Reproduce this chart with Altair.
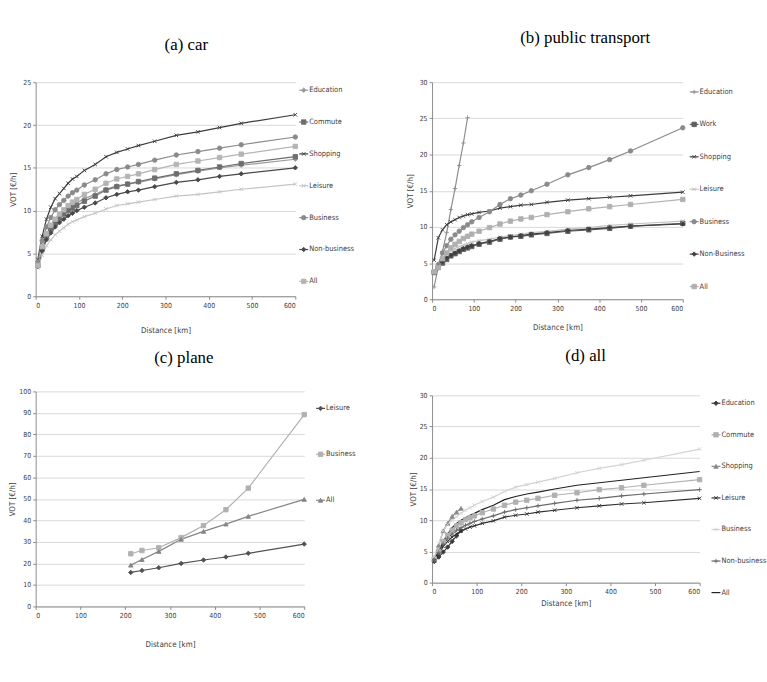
import altair as alt
import pandas as pd

dist = [5, 15, 25, 35, 45, 55, 65, 75, 85, 95, 112.5, 137.5, 162.5, 187.5,
        212.5, 237.5, 275, 325, 375, 425, 475, 600]
plane_dist = [212.5, 237.5, 275, 325, 375, 425, 475, 600]

# (a) car
car_series = ["Education", "Commute", "Shopping", "Leisure", "Business", "Non-business", "All"]
car_education = [3.8, 5.8, 7.2, 8.0, 8.8, 9.3, 9.8, 10.2, 10.6, 10.9, 11.4, 11.9, 12.5, 12.9, 13.1, 13.3, 13.7, 14.2, 14.6, 15.0, 15.3, 16.0]
car_commute = [3.6, 5.6, 7.0, 7.8, 8.5, 9.1, 9.6, 10.0, 10.3, 10.6, 11.1, 11.7, 12.4, 12.8, 13.1, 13.4, 13.8, 14.3, 14.7, 15.1, 15.5, 16.3]
car_shopping = [4.3, 7.0, 9.0, 10.4, 11.4, 12.0, 12.6, 13.2, 13.7, 14.0, 14.7, 15.4, 16.3, 16.8, 17.2, 17.6, 18.1, 18.8, 19.2, 19.7, 20.2, 21.2]
car_leisure = [3.3, 4.8, 5.9, 6.6, 7.2, 7.6, 8.0, 8.4, 8.7, 8.9, 9.3, 9.7, 10.2, 10.6, 10.8, 11.0, 11.3, 11.7, 11.9, 12.2, 12.5, 13.1]
car_business = [4.0, 6.5, 8.1, 9.2, 10.1, 10.7, 11.2, 11.7, 12.1, 12.4, 13.0, 13.6, 14.3, 14.8, 15.1, 15.4, 15.9, 16.5, 16.9, 17.3, 17.7, 18.6]
car_nonbusiness = [3.5, 5.3, 6.6, 7.4, 8.1, 8.6, 9.0, 9.4, 9.7, 10.0, 10.4, 10.9, 11.5, 11.9, 12.2, 12.4, 12.8, 13.3, 13.6, 14.0, 14.3, 15.0]
car_all = [3.6, 5.8, 7.3, 8.3, 9.0, 9.6, 10.1, 10.6, 11.0, 11.3, 11.9, 12.5, 13.2, 13.7, 14.0, 14.3, 14.8, 15.4, 15.8, 16.2, 16.6, 17.5]

# (b) public transport
pt_series = ["Education", "Work", "Shopping", "Leisure", "Business", "Non-Business", "All"]
pt_education = [1.7, 4.5, 6.6, 9.2, 12.4, 15.3, 18.5, 21.6, 25.1]
pt_work = [3.7, 4.4, 5.0, 5.5, 6.0, 6.3, 6.6, 6.9, 7.1, 7.3, 7.6, 7.9, 8.3, 8.6, 8.7, 8.9, 9.1, 9.4, 9.6, 9.8, 10.1, 10.5]
pt_shopping = [5.4, 8.5, 9.6, 10.3, 10.7, 11.0, 11.3, 11.5, 11.7, 11.8, 12.0, 12.2, 12.6, 12.8, 13.0, 13.1, 13.4, 13.7, 13.9, 14.1, 14.3, 14.8]
pt_leisure = [3.7, 4.4, 5.6, 6.3, 6.7, 7.0, 7.3, 7.5, 7.7, 7.9, 8.1, 8.3, 8.6, 8.8, 9.0, 9.2, 9.4, 9.7, 9.9, 10.2, 10.4, 10.8]
pt_business = [3.8, 4.8, 6.4, 7.4, 8.3, 8.9, 9.4, 9.9, 10.3, 10.7, 11.3, 12.1, 13.1, 13.9, 14.4, 15.0, 15.9, 17.2, 18.2, 19.3, 20.5, 23.7]
pt_nonbusiness = [3.8, 4.5, 5.2, 5.7, 6.1, 6.4, 6.7, 7.0, 7.2, 7.4, 7.7, 8.0, 8.4, 8.6, 8.8, 9.0, 9.2, 9.5, 9.7, 9.9, 10.1, 10.4]
pt_all = [3.8, 4.4, 5.6, 6.4, 7.1, 7.6, 8.0, 8.4, 8.7, 9.0, 9.4, 9.9, 10.4, 10.8, 11.1, 11.3, 11.7, 12.1, 12.5, 12.8, 13.1, 13.8]

# (c) plane
plane_series = ["Leisure", "Business", "All"]
plane_leisure = [15.8, 16.7, 18.0, 20.0, 21.6, 23.0, 24.7, 29.0]
plane_business = [24.5, 26.0, 27.3, 32.0, 37.6, 45.0, 55.0, 89.2]
plane_all = [19.2, 21.8, 25.6, 31.2, 34.9, 38.3, 41.9, 49.8]

# (d) all
all_series = ["Education", "Commute", "Shopping", "Leisure", "Business", "Non-business", "All"]
all_education = [3.4, 4.1, 4.9, 5.7, 6.6, 7.5, 8.3]
all_commute = [3.8, 5.0, 6.6, 7.6, 8.4, 9.1, 9.6, 10.1, 10.4, 10.7, 11.2, 11.8, 12.4, 12.9, 13.2, 13.5, 14.0, 14.4, 14.9, 15.2, 15.6, 16.5]
all_shopping = [3.8, 6.0, 8.3, 9.5, 10.6, 11.3, 11.9]
all_leisure = [3.5, 4.5, 5.8, 6.6, 7.3, 7.8, 8.3, 8.6, 8.9, 9.1, 9.5, 9.9, 10.5, 10.8, 11.0, 11.3, 11.6, 12.0, 12.3, 12.6, 12.8, 13.5]
all_business = [4.2, 6.3, 8.3, 9.3, 10.0, 10.6, 11.1, 11.6, 12.0, 12.4, 13.0, 13.7, 14.6, 15.3, 15.7, 16.1, 16.7, 17.6, 18.3, 18.9, 19.6, 21.4]
all_nonbusiness = [3.6, 4.8, 6.2, 7.1, 7.8, 8.4, 8.8, 9.2, 9.5, 9.8, 10.2, 10.7, 11.3, 11.7, 12.0, 12.3, 12.7, 13.2, 13.5, 13.9, 14.2, 14.9]
all_all = [3.8, 5.0, 6.6, 7.8, 8.8, 9.5, 10.0, 10.4, 10.8, 11.1, 11.7, 12.4, 13.3, 13.8, 14.2, 14.5, 15.0, 15.6, 16.0, 16.4, 16.8, 17.8]

X_PATH = "M-0.8,-0.8L0.8,0.8M-0.8,0.8L0.8,-0.8"
PLUS_PATH = "M-1,0L1,0M0,-1L0,1"

LABEL_FONT = "Liberation Sans Narrow, DejaVu Sans Condensed, Roboto, sans-serif"
TITLE_FONT = "Liberation Serif, Times New Roman, serif"
TXT = "#404040"


def frame(key, series, values, xs):
    rows = []
    for s, vals in zip(series, values):
        for d, v in zip(xs, vals):
            rows.append({key: s, "d": d, "v": v})
    return pd.DataFrame(rows)


def marks(key, series, colors, shapes):
    cscale = alt.Scale(domain=series, range=colors)
    return dict(
        color=alt.Color(f"{key}:N", scale=cscale, legend=None),
        stroke=alt.Stroke(f"{key}:N", scale=cscale, legend=None),
        shape=alt.Shape(f"{key}:N", scale=alt.Scale(domain=series, range=shapes), legend=None),
    )


def panel(key, df, series, colors, shapes, marked, ymax, ystep, w, h, title, tdx, toff,
          ytp, xtp):
    enc = marks(key, series, colors, shapes)
    x = alt.X("d:Q", scale=alt.Scale(domain=[0, 600], nice=False),
              axis=alt.Axis(values=list(range(0, 601, 100)), title="Distance [km]",
                            grid=False, tickSize=3, titlePadding=xtp))
    y = alt.Y("v:Q", scale=alt.Scale(domain=[0, ymax], nice=False),
              axis=alt.Axis(values=list(range(0, ymax + 1, ystep)), title="VOT [€/h]",
                            grid=True, tickSize=3, titlePadding=ytp))
    lines = alt.Chart(df).mark_line(strokeWidth=1.2).encode(x=x, y=y, color=enc["color"])
    pts = alt.Chart(df).transform_filter(
        alt.FieldOneOfPredicate(field=key, oneOf=marked)
    ).mark_point(filled=True, size=20, strokeWidth=0.9, opacity=1).encode(
        x=x, y=y, color=enc["color"], stroke=enc["stroke"], shape=enc["shape"])
    return alt.layer(lines, pts).properties(
        width=w, height=h,
        title=alt.TitleParams(title, font=TITLE_FONT, fontSize=17, fontWeight="normal",
                              color="black", anchor="middle", frame="group", dx=tdx,
                              offset=toff),
    )


def legend(key, series, colors, shapes, marked, h, pad):
    enc = marks(key, series, colors, shapes)
    base = alt.Chart(pd.DataFrame({key: series})).encode(
        y=alt.Y(f"{key}:N", scale=alt.Scale(type="point", domain=series, padding=pad),
                axis=None))
    rule = base.mark_rule(strokeWidth=1.2).encode(
        x=alt.value(0), x2=alt.value(9), color=enc["color"])
    pts = base.transform_filter(
        alt.FieldOneOfPredicate(field=key, oneOf=marked)
    ).mark_point(filled=True, size=20, strokeWidth=0.9, opacity=1).encode(
        x=alt.value(4.5), color=enc["color"], stroke=enc["stroke"], shape=enc["shape"])
    txt = base.mark_text(align="left", baseline="middle", fontSize=7.5, color=TXT,
                         font=LABEL_FONT).encode(x=alt.value(10), text=f"{key}:N")
    return alt.layer(rule, pts, txt).properties(width=52, height=h)


def indep(c):
    return c.resolve_scale(color="independent", stroke="independent", shape="independent")


car_df = frame("sa", car_series, [car_education, car_commute, car_shopping, car_leisure,
                                  car_business, car_nonbusiness, car_all], dist)
car_colors = ["#9a9a9a", "#6e6e6e", "#3c3c3c", "#c4c4c4", "#8a8a8a", "#484848", "#b4b4b4"]
car_shapes = ["diamond", "square", X_PATH, X_PATH, "circle", "diamond", "square"]

pt_df = frame("sb", pt_series, [pt_education, pt_work, pt_shopping, pt_leisure, pt_business,
                                pt_nonbusiness, pt_all], dist)
pt_colors = ["#8e8e8e", "#5e5e5e", "#3c3c3c", "#c4c4c4", "#8a8a8a", "#404040", "#b0b0b0"]
pt_shapes = [PLUS_PATH, "square", X_PATH, X_PATH, "circle", "diamond", "square"]

plane_df = frame("sc", plane_series, [plane_leisure, plane_business, plane_all], plane_dist)
plane_colors = ["#505050", "#b0b0b0", "#858585"]
plane_shapes = ["diamond", "square", "triangle-up"]

all_df = frame("sd", all_series, [all_education, all_commute, all_shopping, all_leisure,
                                  all_business, all_nonbusiness, all_all], dist)
all_colors = ["#3c3c3c", "#b0b0b0", "#8a8a8a", "#303030", "#d2d2d2", "#6a6a6a", "#222222"]
all_shapes = ["diamond", "square", "triangle-up", X_PATH, X_PATH, PLUS_PATH, "circle"]
all_marked = all_series[:-1]

pa = panel("sa", car_df, car_series, car_colors, car_shapes, car_series, 25, 5, 262, 216,
           "(a) car", 21, 25, 5, 19)
la = legend("sa", car_series, car_colors, car_shapes, car_series, 209, 0.25)
pb = panel("sb", pt_df, pt_series, pt_colors, pt_shapes, pt_series, 30, 5, 253, 219,
           "(b) public transport", 28, 32, 5, 13)
lb = legend("sb", pt_series, pt_colors, pt_shapes, pt_series, 216, 0.3)
pc = panel("sc", plane_df, plane_series, plane_colors, plane_shapes, plane_series, 100, 10,
           271, 217, "(c) plane", 14, 21, 2, 22)
lc = legend("sc", plane_series, plane_colors, plane_shapes, plane_series, 127, 0.37)
pd_ = panel("sd", all_df, all_series, all_colors, all_shapes, all_marked, 30, 5, 270, 189,
            "(d) all", 20, 27, 2, 5)
ld = legend("sd", all_series, all_colors, all_shapes, all_marked, 207, 0.25)

col1 = indep(alt.vconcat(
    alt.hconcat(pa, la, spacing=4, bounds="flush"),
    alt.hconcat(pc, lc, spacing=12, bounds="flush"),
    spacing=14,
))
col2 = indep(alt.vconcat(
    alt.hconcat(pb, lb, spacing=7, bounds="flush"),
    alt.hconcat(pd_, ld, spacing=12, bounds="flush"),
    spacing=15,
))

chart = indep(alt.hconcat(col1, col2, spacing=38)).properties(
    padding={"left": 8, "top": 26, "right": 0, "bottom": 0},
    background="white",
).configure_view(stroke=None).configure_axis(
    labelFont=LABEL_FONT, titleFont=LABEL_FONT, labelFontSize=7, titleFontSize=8,
    titleFontWeight="normal", labelColor=TXT, titleColor=TXT,
    domainColor="#8c8c8c", tickColor="#8c8c8c", gridColor="#d9d9d9",
    labelPadding=2,
)

chart.save("out.html", embed_options={"renderer": "svg", "actions": False})
